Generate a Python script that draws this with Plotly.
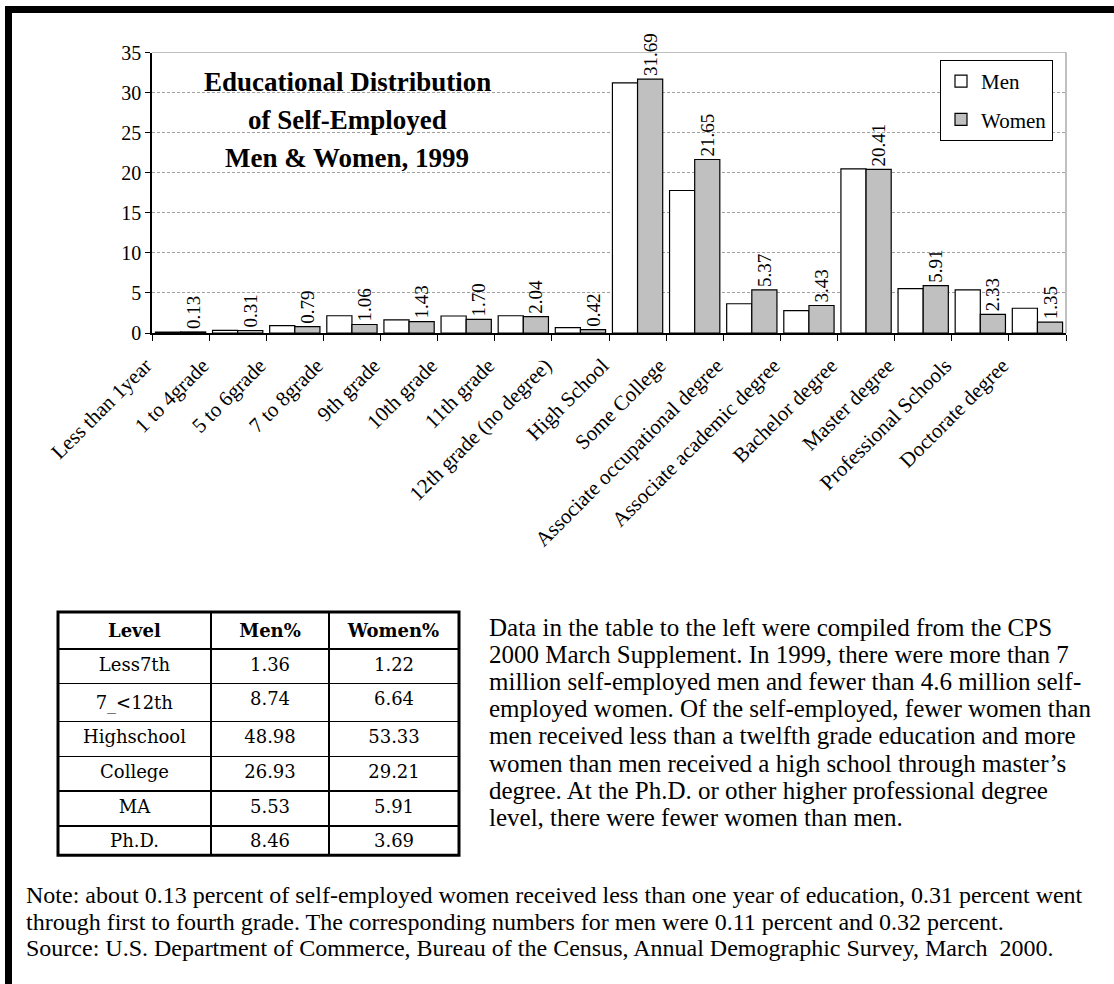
import plotly.graph_objects as go

W, H = 1114, 984


def px(x):
    return x / W


def py(y):
    return 1 - y / H


SERIF = "Liberation Serif, Times New Roman, serif"

categories = [
    "Less than 1year", "1 to 4grade", "5 to 6grade", "7 to 8grade", "9th grade",
    "10th grade", "11th grade", "12th grade (no degree)", "High School", "Some College",
    "Associate occupational degree", "Associate academic degree", "Bachelor degree",
    "Master degree", "Professional Schools", "Doctorate degree",
]
men = [0.11, 0.32, 0.93, 2.15, 1.65, 2.12, 2.15, 0.67, 31.2, 17.78, 3.65, 2.8, 20.48, 5.53, 5.37, 3.09]
women = [0.13, 0.31, 0.79, 1.06, 1.43, 1.70, 2.04, 0.42, 31.69, 21.65, 5.37, 3.43, 20.41, 5.91, 2.33, 1.35]

title_lines = ["Educational Distribution", "of Self-Employed", "Men &amp; Women, 1999"]

table_header = ["<b>Level</b>", "<b>Men%</b>", "<b>Women%</b>"]
table_levels = ["Less7th", "7_<12th", "Highschool", "College", "MA", "Ph.D."]
table_men = ["1.36", "8.74", "48.98", "26.93", "5.53", "8.46"]
table_women = ["1.22", "6.64", "53.33", "29.21", "5.91", "3.69"]

paragraph_lines = [
    "Data in the table to the left were compiled from the CPS",
    "2000 March Supplement. In 1999, there were more than 7",
    "million self-employed men and fewer than 4.6 million self-",
    "employed women. Of the self-employed, fewer women than",
    "men received less than a twelfth grade education and more",
    "women than men received a high school through master\u2019s",
    "degree. At the Ph.D. or other higher professional degree",
    "level, there were fewer women than men.",
]
note_lines = [
    "Note: about 0.13 percent of self-employed women received less than one year of education, 0.31 percent went",
    "through first to fourth grade. The corresponding numbers for men were 0.11 percent and 0.32 percent.",
    "Source: U.S. Department of Commerce, Bureau of the Census, Annual Demographic Survey, March\u00a0 2000.",
]

fig = go.Figure()

fig.add_trace(go.Bar(
    name="Men", x=categories, y=men,
    marker=dict(color="white", line=dict(color="black", width=1.2)),
    legendgroup="m",
))
fig.add_trace(go.Bar(
    name="Women", x=categories, y=women,
    marker=dict(color="#C0C0C0", line=dict(color="black", width=1.2)),
    text=[f"{v:.2f}" for v in women], textposition="outside", textangle=-90,
    textfont=dict(family=SERIF, size=19, color="black"),
    cliponaxis=False, constraintext="none",
    legendgroup="w",
))

# table
tbl_top, hdr_h, row_h = 612, 35, 34.7
tbl_bot = tbl_top + hdr_h + row_h * len(table_levels)
fig.add_trace(go.Table(
    domain=dict(x=[px(58), px(459)], y=[py(tbl_bot), py(tbl_top)]),
    columnwidth=[153, 118, 130],
    header=dict(values=table_header, align="center", height=hdr_h,
                font=dict(family="DejaVu Serif", size=18, color="black"),
                fill_color="white", line=dict(color="black", width=2)),
    cells=dict(values=[table_levels, table_men, table_women], align="center", height=row_h,
               font=dict(family="DejaVu Serif", size=18, color="black"),
               fill_color="white", line=dict(color="black", width=1.5)),
))

shapes = [
    # outer black frame (top & left)
    dict(type="rect", xref="paper", yref="paper", x0=px(5), x1=1.01, y0=py(13), y1=py(6),
         fillcolor="black", line=dict(width=0)),
    dict(type="rect", xref="paper", yref="paper", x0=px(5), x1=px(12), y0=-0.01, y1=py(6),
         fillcolor="black", line=dict(width=0)),
    # plot frame top & right (gray)
    dict(type="line", xref="x domain", yref="y", x0=0, x1=1, y0=35, y1=35,
         line=dict(color="#808080", width=1)),
    dict(type="line", xref="x domain", yref="y domain", x0=1, x1=1, y0=0, y1=1,
         line=dict(color="#808080", width=1)),
    # table outer border
    dict(type="rect", xref="paper", yref="paper", x0=px(58), x1=px(459),
         y0=py(tbl_bot), y1=py(tbl_top), line=dict(color="black", width=3)),
]

annotations = []
for i, t in enumerate(title_lines):
    annotations.append(dict(text=f"<b>{t}</b>", xref="paper", yref="paper",
                            x=px(347), y=py(82 + 38 * i), xanchor="center", yanchor="middle",
                            showarrow=False, font=dict(family=SERIF, size=27, color="black")))
for i, t in enumerate(paragraph_lines):
    annotations.append(dict(text=t, xref="paper", yref="paper",
                            x=px(487), y=py(627 + 27.2 * i), xanchor="left", yanchor="middle",
                            showarrow=False, font=dict(family=SERIF, size=25, color="black")))
for i, t in enumerate(note_lines):
    annotations.append(dict(text=t, xref="paper", yref="paper",
                            x=px(24), y=py(895 + 26.5 * i), xanchor="left", yanchor="middle",
                            showarrow=False, font=dict(family=SERIF, size=24, color="black")))

fig.update_layout(
    template="none",
    width=W, height=H,
    margin=dict(l=0, r=0, t=0, b=0),
    paper_bgcolor="white", plot_bgcolor="white",
    barmode="group", bargap=0.12, bargroupgap=0,
    showlegend=True,
    legend=dict(x=px(940), y=py(60), xanchor="left", yanchor="top",
                bgcolor="white", bordercolor="black", borderwidth=1,
                font=dict(family=SERIF, size=21, color="black"),
                traceorder="grouped", tracegroupgap=8),
    xaxis=dict(domain=[px(152), px(1066)], type="category", tickson="boundaries",
               ticks="outside", ticklen=6, tickcolor="black", tickwidth=1.2,
               tickangle=-45, tickfont=dict(family=SERIF, size=21, color="black"),
               ticklabelstandoff=10, ticklabelshift=-35,
               showline=True, linecolor="black", linewidth=2, showgrid=False,
               automargin=False),
    yaxis=dict(domain=[py(333), py(52.5)], range=[0, 35], dtick=5, tick0=0,
               ticks="outside", ticklen=5, tickcolor="black",
               tickfont=dict(family=SERIF, size=20, color="black"),
               showline=True, linecolor="black", linewidth=1.5,
               showgrid=True, gridcolor="#A0A0A0", griddash="3px,2px", gridwidth=1,
               zeroline=False, automargin=False),
    shapes=shapes,
    annotations=annotations,
    hovermode=False,
)

fig.write_html("out.html", config={"displayModeBar": False},
               post_script="document.body.style.margin='0px';document.body.style.overflow='hidden';")
